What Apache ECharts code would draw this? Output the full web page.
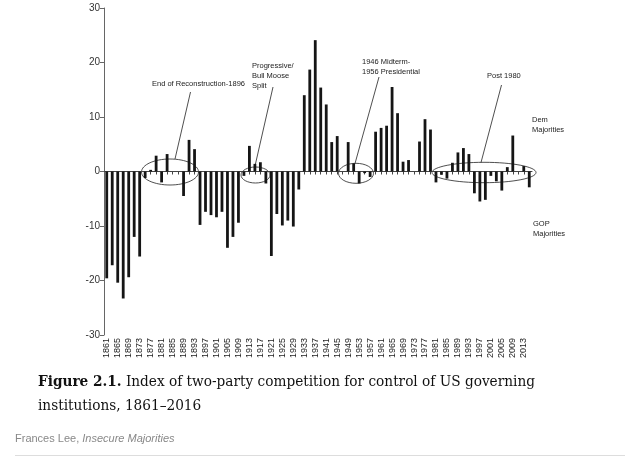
<!DOCTYPE html>
<html>
<head>
<meta charset="utf-8">
<script src="https://cdn.jsdelivr.net/npm/echarts@6/dist/echarts.min.js"></script>
<style>
  html, body { margin: 0; padding: 0; background: #fff; }
  #main { width: 640px; height: 471px; }
</style>
</head>
<body>
<div id="main"></div>
<script>
// congress years (every 2 years)
var years = [
  '1861','1863','1865','1867','1869','1871','1873','1875','1877','1879',
  '1881','1883','1885','1887','1889','1891','1893','1895','1897','1899',
  '1901','1903','1905','1907','1909','1911','1913','1915','1917','1919',
  '1921','1923','1925','1927','1929','1931','1933','1935','1937','1939',
  '1941','1943','1945','1947','1949','1951','1953','1955','1957','1959',
  '1961','1963','1965','1967','1969','1971','1973','1975','1977','1979',
  '1981','1983','1985','1987','1989','1991','1993','1995','1997','1999',
  '2001','2003','2005','2007','2009','2011','2013','2015'
];

// index of two-party competition (+ Dem, - GOP)
var index = [
  -19.6,-17.2,-20.4,-23.3,-19.4,-12.0,-15.6,-1.2,0.3,2.9,
  -2.0,3.2,0,0,-4.5,5.8,4.1,-9.8,-7.4,-8.0,
  -8.4,-7.4,-14.0,-12.0,-9.4,-0.8,4.7,1.4,1.7,-2.2,
  -15.5,-7.8,-9.9,-9.0,-10.1,-3.3,14.0,18.7,24.1,15.4,
  12.3,5.4,6.5,0,5.4,1.5,-2.2,-0.3,-1.0,7.3,
  8.0,8.4,15.5,10.7,1.8,2.1,0,5.5,9.6,7.7,
  -2.0,-0.6,-1.3,1.6,3.5,4.3,3.2,-4.0,-5.5,-5.2,
  -0.8,-1.8,-3.5,0.8,6.6,0,1.0,-2.9
];

var yTicks = [-30, -20, -10, 0, 10, 20, 30];

var annoFont = '"Liberation Sans", sans-serif';
var capFont = '"DejaVu Serif Condensed", "DejaVu Serif", serif';
var ink = '#222';

var myChart = echarts.init(document.getElementById('main'));

var option = {
  backgroundColor: '#fff',
  animation: false,
  grid: { left: 104, right: 108, top: 8, bottom: 136 },
  xAxis: [
    {
      type: 'category',
      data: years,
      axisLine: { onZero: true, lineStyle: { color: '#444', width: 1 } },
      axisTick: { show: true, alignWithLabel: true, interval: 0, length: 3, lineStyle: { color: '#444' } },
      axisLabel: { show: false }
    },
    {
      type: 'category',
      data: years,
      position: 'bottom',
      axisLine: { show: false },
      axisTick: { show: false },
      axisLabel: {
        rotate: 90, interval: 1, fontSize: 9, margin: 3,
        color: '#222', fontFamily: annoFont
      }
    }
  ],
  yAxis: {
    type: 'value',
    min: yTicks[0],
    max: yTicks[yTicks.length - 1],
    interval: 10,
    splitLine: { show: false },
    axisLine: { show: true, lineStyle: { color: '#666' } },
    axisTick: { show: true, length: 4, lineStyle: { color: '#666' } },
    axisLabel: { fontSize: 10, color: '#333', margin: 4, fontFamily: annoFont }
  },
  series: [
    {
      type: 'bar',
      xAxisIndex: 0,
      data: index,
      barWidth: 2.8,
      itemStyle: { color: '#151515' }
    }
  ],
  graphic: [
    // annotations
    { type: 'text', left: 152, top: 80, style: { text: 'End of Reconstruction-1896', font: '7.5px ' + annoFont, fill: ink } },
    { type: 'line', shape: { x1: 190.5, y1: 92, x2: 175, y2: 159 }, style: { stroke: ink, lineWidth: 0.8 } },
    { type: 'ellipse', shape: { cx: 170, cy: 172, rx: 28.5, ry: 13 }, style: { fill: 'none', stroke: ink, lineWidth: 0.8 } },

    { type: 'text', left: 252, top: 61, style: { text: 'Progressive/\nBull Moose\nSplit', font: '7.5px ' + annoFont, fill: ink, lineHeight: 10 } },
    { type: 'line', shape: { x1: 273, y1: 87, x2: 255, y2: 166 }, style: { stroke: ink, lineWidth: 0.8 } },
    { type: 'ellipse', shape: { cx: 255.5, cy: 175, rx: 14.5, ry: 8 }, style: { fill: 'none', stroke: ink, lineWidth: 0.8 } },

    { type: 'text', left: 362, top: 57, style: { text: '1946 Midterm-\n1956 Presidential', font: '7.5px ' + annoFont, fill: ink, lineHeight: 10 } },
    { type: 'line', shape: { x1: 379, y1: 77, x2: 355, y2: 163.5 }, style: { stroke: ink, lineWidth: 0.8 } },
    { type: 'ellipse', shape: { cx: 356, cy: 173.3, rx: 17.5, ry: 10 }, style: { fill: 'none', stroke: ink, lineWidth: 0.8 } },

    { type: 'text', left: 487, top: 72, style: { text: 'Post 1980', font: '7.5px ' + annoFont, fill: ink } },
    { type: 'line', shape: { x1: 501.5, y1: 85, x2: 481, y2: 162.5 }, style: { stroke: ink, lineWidth: 0.8 } },
    { type: 'ellipse', shape: { cx: 484, cy: 172.5, rx: 52, ry: 10.2 }, style: { fill: 'none', stroke: ink, lineWidth: 0.8 } },

    { type: 'text', left: 532, top: 115, style: { text: 'Dem\nMajorities', font: '7.5px ' + annoFont, fill: ink, lineHeight: 10 } },
    { type: 'text', left: 533, top: 219, style: { text: 'GOP\nMajorities', font: '7.5px ' + annoFont, fill: ink, lineHeight: 10 } },

    // caption
    {
      type: 'text', left: 38, top: 370,
      style: {
        text: '{b|Figure 2.1.} Index of two-party competition for control of US governing\ninstitutions, 1861\u20132016',
        font: '15.2px ' + capFont,
        fill: '#111',
        lineHeight: 24,
        rich: {
          b: { font: 'bold 15.2px ' + capFont, fill: '#111' }
        }
      }
    },
    {
      type: 'text', left: 15, top: 433,
      style: {
        text: 'Frances Lee, {i|Insecure Majorities}',
        font: '11px "Liberation Sans", sans-serif',
        fill: '#888',
        rich: { i: { font: 'italic 11px "Liberation Sans", sans-serif', fill: '#888' } }
      }
    },
    { type: 'line', shape: { x1: 15, y1: 455.5, x2: 625, y2: 455.5 }, style: { stroke: '#ddd', lineWidth: 1 } }
  ]
};

myChart.setOption(option);
</script>
</body>
</html>
